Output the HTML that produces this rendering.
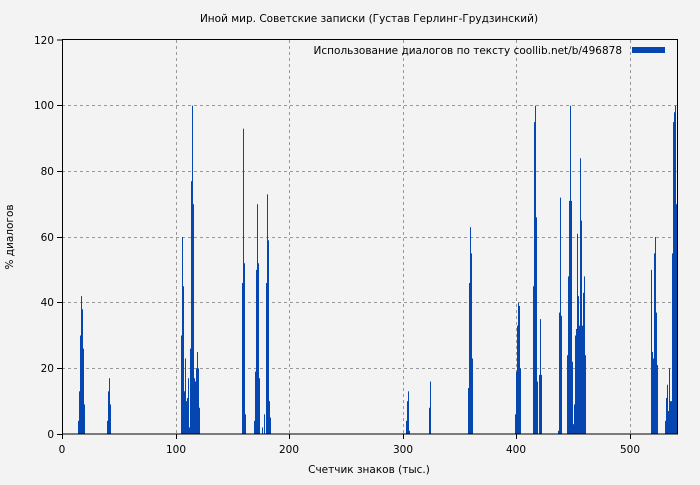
<!DOCTYPE html>
<html><head><meta charset="utf-8"><style>
body{margin:0;background:#f3f3f3}
svg text{font-family:"DejaVu Sans","Liberation Sans",sans-serif;font-size:10.5px;fill:#000}
</style></head><body>
<svg width="700" height="480" xmlns="http://www.w3.org/2000/svg">
<rect width="700" height="480" fill="#f3f3f3"/>
<g stroke="#999" stroke-dasharray="3,3" stroke-width="1">
<line x1="62" y1="368.5" x2="678" y2="368.5"/><line x1="62" y1="302.5" x2="678" y2="302.5"/>
<line x1="62" y1="237.5" x2="678" y2="237.5"/><line x1="62" y1="171.5" x2="678" y2="171.5"/>
<line x1="62" y1="105.5" x2="678" y2="105.5"/>
<line x1="176.5" y1="40" x2="176.5" y2="434"/><line x1="289.5" y1="40" x2="289.5" y2="434"/>
<line x1="403.5" y1="40" x2="403.5" y2="434"/><line x1="516.5" y1="40" x2="516.5" y2="434"/>
<line x1="630.5" y1="40" x2="630.5" y2="434"/>
</g>
<g fill="#0646b0" transform="translate(0,434) scale(1,-3.283)">
<rect x="78" y="0" width="1" height="4"/><rect x="79" y="0" width="1" height="13"/><rect x="80" y="0" width="1" height="30"/><rect x="81" y="0" width="1" height="42"/><rect x="82" y="0" width="1" height="38"/><rect x="83" y="0" width="1" height="26"/><rect x="84" y="0" width="1" height="9"/>
<rect x="107" y="0" width="1" height="4"/><rect x="108" y="0" width="1" height="13"/><rect x="109" y="0" width="1" height="17"/><rect x="110" y="0" width="1" height="9"/>
<rect x="181" y="0" width="1" height="30"/><rect x="182" y="0" width="1" height="60"/><rect x="183" y="0" width="1" height="45"/><rect x="184" y="0" width="1" height="13"/><rect x="185" y="0" width="1" height="23"/><rect x="186" y="0" width="1" height="10"/><rect x="187" y="0" width="1" height="11"/><rect x="188" y="0" width="1" height="17"/><rect x="189" y="0" width="1" height="2"/><rect x="190" y="0" width="1" height="26"/><rect x="191" y="0" width="1" height="77"/><rect x="192" y="0" width="1" height="100"/><rect x="193" y="0" width="1" height="70"/><rect x="194" y="0" width="1" height="17"/><rect x="195" y="0" width="1" height="16"/><rect x="196" y="0" width="1" height="20"/><rect x="197" y="0" width="1" height="25"/><rect x="198" y="0" width="1" height="20"/><rect x="199" y="0" width="1" height="8"/>
<rect x="242" y="0" width="1" height="46"/><rect x="243" y="0" width="1" height="93"/><rect x="244" y="0" width="1" height="52"/><rect x="245" y="0" width="1" height="6"/>
<rect x="254" y="0" width="1" height="4"/><rect x="255" y="0" width="1" height="19"/><rect x="256" y="0" width="1" height="50"/><rect x="257" y="0" width="1" height="70"/><rect x="258" y="0" width="1" height="52"/><rect x="259" y="0" width="1" height="17"/><rect x="262" y="0" width="1" height="2"/><rect x="264" y="0" width="1" height="6"/><rect x="266" y="0" width="1" height="46"/><rect x="267" y="0" width="1" height="73"/><rect x="268" y="0" width="1" height="59"/><rect x="269" y="0" width="1" height="10"/><rect x="270" y="0" width="1" height="5"/>
<rect x="406" y="0" width="1" height="4"/><rect x="407" y="0" width="1" height="10"/><rect x="408" y="0" width="1" height="13"/><rect x="409" y="0" width="1" height="1"/><rect x="429" y="0" width="1" height="8"/><rect x="430" y="0" width="1" height="16"/>
<rect x="468" y="0" width="1" height="14"/><rect x="469" y="0" width="1" height="46"/><rect x="470" y="0" width="1" height="63"/><rect x="471" y="0" width="1" height="55"/><rect x="472" y="0" width="1" height="23"/>
<rect x="515" y="0" width="1" height="6"/><rect x="516" y="0" width="1" height="19"/><rect x="517" y="0" width="1" height="33"/><rect x="518" y="0" width="1" height="40"/><rect x="519" y="0" width="1" height="39"/><rect x="520" y="0" width="1" height="20"/>
<rect x="533" y="0" width="1" height="45"/><rect x="534" y="0" width="1" height="95"/><rect x="535" y="0" width="1" height="100"/><rect x="536" y="0" width="1" height="66"/><rect x="537" y="0" width="1" height="16"/><rect x="539" y="0" width="1" height="18"/><rect x="540" y="0" width="1" height="35"/><rect x="541" y="0" width="1" height="18"/>
<rect x="558" y="0" width="1" height="1"/><rect x="559" y="0" width="1" height="37"/><rect x="560" y="0" width="1" height="72"/><rect x="561" y="0" width="1" height="36"/>
<rect x="567" y="0" width="1" height="24"/><rect x="568" y="0" width="1" height="48"/><rect x="569" y="0" width="1" height="71"/><rect x="570" y="0" width="1" height="100"/><rect x="571" y="0" width="1" height="71"/><rect x="572" y="0" width="1" height="22"/><rect x="573" y="0" width="1" height="3"/><rect x="574" y="0" width="1" height="9"/><rect x="575" y="0" width="1" height="30"/><rect x="576" y="0" width="1" height="32"/><rect x="577" y="0" width="1" height="61"/><rect x="578" y="0" width="1" height="42"/><rect x="579" y="0" width="1" height="33"/><rect x="580" y="0" width="1" height="84"/><rect x="581" y="0" width="1" height="65"/><rect x="582" y="0" width="1" height="33"/><rect x="583" y="0" width="1" height="43"/><rect x="584" y="0" width="1" height="48"/><rect x="585" y="0" width="1" height="24"/>
<rect x="651" y="0" width="1" height="50"/><rect x="652" y="0" width="1" height="25"/><rect x="653" y="0" width="1" height="23"/><rect x="654" y="0" width="1" height="55"/><rect x="655" y="0" width="1" height="60"/><rect x="656" y="0" width="1" height="37"/><rect x="657" y="0" width="1" height="21"/>
<rect x="665" y="0" width="1" height="4"/><rect x="666" y="0" width="1" height="11"/><rect x="667" y="0" width="1" height="15"/><rect x="668" y="0" width="1" height="7"/><rect x="669" y="0" width="1" height="20"/><rect x="670" y="0" width="1" height="10"/><rect x="671" y="0" width="1" height="10"/><rect x="672" y="0" width="1" height="55"/><rect x="673" y="0" width="1" height="95"/><rect x="674" y="0" width="1" height="98"/><rect x="675" y="0" width="1" height="100"/><rect x="676" y="0" width="1" height="70"/><rect x="677" y="0" width="1" height="20"/>
</g>
<rect x="62.5" y="39.5" width="615" height="394.5" fill="none" stroke="#000"/>
<g stroke="#000">
<line x1="62.5" y1="434" x2="62.5" y2="439"/><line x1="176.5" y1="434" x2="176.5" y2="439"/><line x1="289.5" y1="434" x2="289.5" y2="439"/><line x1="403.5" y1="434" x2="403.5" y2="439"/><line x1="516.5" y1="434" x2="516.5" y2="439"/><line x1="630.5" y1="434" x2="630.5" y2="439"/>
<line x1="57" y1="434.5" x2="62" y2="434.5"/><line x1="57" y1="368.5" x2="62" y2="368.5"/><line x1="57" y1="302.5" x2="62" y2="302.5"/><line x1="57" y1="237.5" x2="62" y2="237.5"/><line x1="57" y1="171.5" x2="62" y2="171.5"/><line x1="57" y1="105.5" x2="62" y2="105.5"/><line x1="57" y1="40" x2="62" y2="40"/>
</g>
<g text-anchor="end">
<text x="54" y="438">0</text><text x="54" y="372">20</text><text x="54" y="306">40</text><text x="54" y="241">60</text><text x="54" y="175">80</text><text x="54" y="109">100</text><text x="54" y="44">120</text>
</g>
<g text-anchor="middle">
<text x="62" y="453">0</text><text x="176" y="453">100</text><text x="289" y="453">200</text><text x="403" y="453">300</text><text x="516" y="453">400</text><text x="630" y="453">500</text>
<text x="369" y="22">Иной мир. Советские записки (Густав Герлинг-Грудзинский)</text>
<text x="369" y="473">Счетчик знаков (тыс.)</text>
<text transform="translate(13,237) rotate(-90)">% диалогов</text>
</g>
<text x="622" y="54" text-anchor="end">Использование диалогов по тексту  coollib.net/b/496878</text>
<rect x="632" y="47" width="33" height="6" fill="#0646b0"/>
</svg>
</body></html>
